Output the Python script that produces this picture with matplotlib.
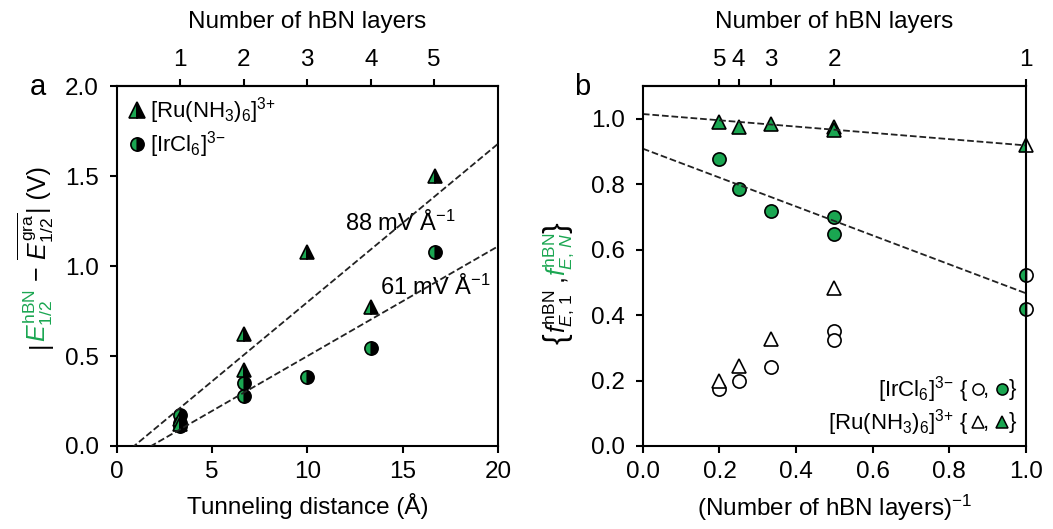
import numpy as np
import matplotlib
matplotlib.use('Agg')
import matplotlib.pyplot as plt
from matplotlib.lines import Line2D

plt.rcParams['font.family'] = 'Liberation Sans'
plt.rcParams['mathtext.fontset'] = 'custom'
plt.rcParams['mathtext.rm'] = 'Liberation Sans'
plt.rcParams['mathtext.it'] = 'Liberation Sans:italic'
plt.rcParams['mathtext.bf'] = 'Liberation Sans:bold'
plt.rcParams['mathtext.sf'] = 'Liberation Sans'
plt.rcParams['font.size'] = 17.5
plt.rcParams['axes.linewidth'] = 1.5

GREEN = '#1aa651'

# panel a: tunneling distance vs potential shift
layers_a = [1, 2, 3, 4, 5]
layer_dist = 3.33
dist_ru = [3.33, 3.33, 6.67, 6.67, 10.0, 13.33, 16.67]
shift_ru = [0.15, 0.12, 0.42, 0.62, 1.08, 0.77, 1.50]
dist_ir = [3.33, 3.33, 3.33, 6.67, 6.67, 10.0, 13.33, 16.67]
shift_ir = [0.17, 0.13, 0.11, 0.35, 0.28, 0.385, 0.545, 1.08]
fit_ru = (0.088, -0.08)   # slope V/A, intercept V
fit_ir = (0.061, -0.11)

# panel b: field fractions vs inverse layer number
inv_layers = [0.2, 0.25, 1 / 3, 0.5, 1.0]
layer_labels = ['5', '4', '3', '2', '1']
x_fill_ru = [0.2, 0.25, 1 / 3, 0.5, 0.5]
f_n_ru = [0.99, 0.975, 0.985, 0.975, 0.965]
x_fill_ir = [0.2, 0.25, 1 / 3, 0.5, 0.5]
f_n_ir = [0.878, 0.785, 0.718, 0.70, 0.648]
x_open_ru = [0.2, 0.25, 1 / 3, 0.5]
f_1_ru = [0.198, 0.246, 0.327, 0.484]
x_open_ir = [0.2, 0.25, 1 / 3, 0.5, 0.5]
f_1_ir = [0.175, 0.198, 0.242, 0.350, 0.325]
x_one = [1.0]
f_one_ru = [0.919]
f_one_ir = [0.523, 0.418]
fitb_ru = (-0.096, 1.015)
fitb_ir = (-0.442, 0.909)

RU = r'[Ru(NH$_3$)$_6$]$^{3{+}}$'
IR = r'[IrCl$_6$]$^{3{-}}$'

fig = plt.figure(figsize=(10.53, 5.29), dpi=100)
ax1 = fig.add_axes([0.111, 0.157, 0.362, 0.680])
ax2 = fig.add_axes([0.6105, 0.157, 0.3637, 0.680])

for ax in (ax1, ax2):
    ax.tick_params(direction='out', length=5, width=1.5)
    ax.tick_params(axis='y', pad=8)
    ax.tick_params(axis='x', pad=6)

# ---- panel a
ms = 9.5
ax1.plot(dist_ir, shift_ir, 'o', ms=ms, mfc=GREEN, mfcalt='black', fillstyle='left',
         mec='black', mew=1.2, zorder=3)
ax1.plot(dist_ru, shift_ru, '^', ms=ms + 1, mfc=GREEN, mfcalt='black', fillstyle='left',
         mec='black', mew=1.2, zorder=3)
xx = np.array([0, 20])
ax1.plot(xx, fit_ru[0] * xx + fit_ru[1], '--', color='#222222', lw=1.3, zorder=4)
ax1.plot(xx, fit_ir[0] * xx + fit_ir[1], '--', color='#222222', lw=1.3, zorder=4)
ax1.text(14.9, 1.24, r'88 mV $\mathrm{\AA}^{-1}$', ha='center', va='center', fontsize=17)
ax1.text(16.7, 0.88, r'61 mV $\mathrm{\AA}^{-1}$', ha='center', va='center', fontsize=17)
ax1.set_xlim(0, 20)
ax1.set_ylim(0, 2.0)
ax1.set_xticks([0, 5, 10, 15, 20])
ax1.set_yticks([0.0, 0.5, 1.0, 1.5, 2.0])
ax1.set_xlabel('Tunneling distance (Å)', labelpad=7)
top1 = ax1.secondary_xaxis('top')
top1.set_xticks([n * layer_dist for n in layers_a], [str(n) for n in layers_a])
top1.tick_params(direction='out', length=5, width=1.5, pad=6)
top1.set_xlabel('Number of hBN layers', labelpad=15)

handles = [
    Line2D([], [], ls='none', marker='^', ms=ms + 1.5, mfc=GREEN, mfcalt='black',
           fillstyle='left', mec='black', mew=1.2),
    Line2D([], [], ls='none', marker='o', ms=ms, mfc=GREEN, mfcalt='black',
           fillstyle='left', mec='black', mew=1.2),
]
ax1.legend(handles, [RU, IR], loc='upper left',
           frameon=False, fontsize=16, handletextpad=0.1, handlelength=1.0,
           borderaxespad=0.1, labelspacing=0.15, borderpad=0.3)

# ---- panel b
ax2.plot(x_open_ir, f_1_ir, 'o', ms=ms, mfc='white', mec='black', mew=1.2, zorder=3)
ax2.plot(x_open_ru, f_1_ru, '^', ms=ms + 1, mfc='white', mec='black', mew=1.2, zorder=3)
ax2.plot(x_fill_ir, f_n_ir, 'o', ms=ms, mfc=GREEN, mec='black', mew=1.2, zorder=3)
ax2.plot(x_fill_ru, f_n_ru, '^', ms=ms + 1, mfc=GREEN, mec='black', mew=1.2, zorder=3)
ax2.plot(x_one * 2, f_one_ir, 'o', ms=ms, mfc=GREEN, mfcalt='white', fillstyle='left',
         mec='black', mew=1.2, zorder=3, clip_on=False)
ax2.plot(x_one, f_one_ru, '^', ms=ms + 1, mfc=GREEN, mfcalt='white', fillstyle='left',
         mec='black', mew=1.2, zorder=3, clip_on=False)
xb = np.array([0, 1])
ax2.plot(xb, fitb_ru[0] * xb + fitb_ru[1], '--', color='#222222', lw=1.3, zorder=4)
ax2.plot(xb, fitb_ir[0] * xb + fitb_ir[1], '--', color='#222222', lw=1.3, zorder=4)
for sp in ax2.spines.values():
    sp.set_zorder(5)
ax2.set_xlim(0, 1.0)
ax2.set_ylim(0, 1.1)
ax2.set_xticks([0.0, 0.2, 0.4, 0.6, 0.8, 1.0])
ax2.set_yticks([0.0, 0.2, 0.4, 0.6, 0.8, 1.0])
ax2.set_xlabel(r'(Number of hBN layers)$^{-1}$', labelpad=7)
top2 = ax2.secondary_xaxis('top')
top2.set_xticks(inv_layers, layer_labels)
top2.tick_params(direction='out', length=5, width=1.5, pad=6)
top2.set_xlabel('Number of hBN layers', labelpad=15)

# custom key, lower right of panel b
key_rows = [
    (0.157, IR, 'o'),
    (0.066, RU, '^'),
]
for ky, name, mk in key_rows:
    ax2.text(0.850, ky, name + ' {', transform=ax2.transAxes, ha='right', va='center',
             fontsize=16)
    ax2.plot([0.875], [ky], mk, ms=8, mfc='white', mec='black', mew=1.1,
             transform=ax2.transAxes, clip_on=False)
    ax2.text(0.897, ky, ',', transform=ax2.transAxes, ha='center', va='center', fontsize=16)
    ax2.plot([0.937], [ky], mk, ms=8, mfc=GREEN, mec='black', mew=1.1,
             transform=ax2.transAxes, clip_on=False)
    ax2.text(0.955, ky, '}', transform=ax2.transAxes, ha='left', va='center', fontsize=16)

fig.text(0.028, 0.82, 'a', fontsize=21)
fig.text(0.545, 0.82, 'b', fontsize=21)


def stacked_label(parts, x, yc):
    # rotated label made of pieces with different colours and sizes
    texts = [fig.text(x, 0, s, color=c, rotation=90, rotation_mode='anchor',
                      ha='left', va='baseline', fontsize=fs) for s, c, fs in parts]
    fig.canvas.draw()
    r = fig.canvas.get_renderer()
    hs = [t.get_window_extent(r).height / fig.bbox.height for t in texts]
    y = yc - sum(hs) / 2
    for t, h in zip(texts, hs):
        t.set_position((x, y))
        y += h


stacked_label([('|', 'black', 18), (r'$E^{\mathrm{hBN}}_{1/2}$', GREEN, 18),
               (r'$\,-\,\overline{E^{\mathrm{gra}}_{1/2}}$', 'black', 18),
               ('| (V)', 'black', 18)],
              0.044, 0.514)
stacked_label([('{', 'black', 23), (r'$f^{\mathrm{hBN}}_{E,\,1}$', 'black', 18),
               (' ,', 'black', 18), (r'$f^{\mathrm{hBN}}_{E,\,N}$', GREEN, 18),
               ('}', 'black', 23)],
              0.537, 0.465)

fig.savefig('out.png', dpi=100)
